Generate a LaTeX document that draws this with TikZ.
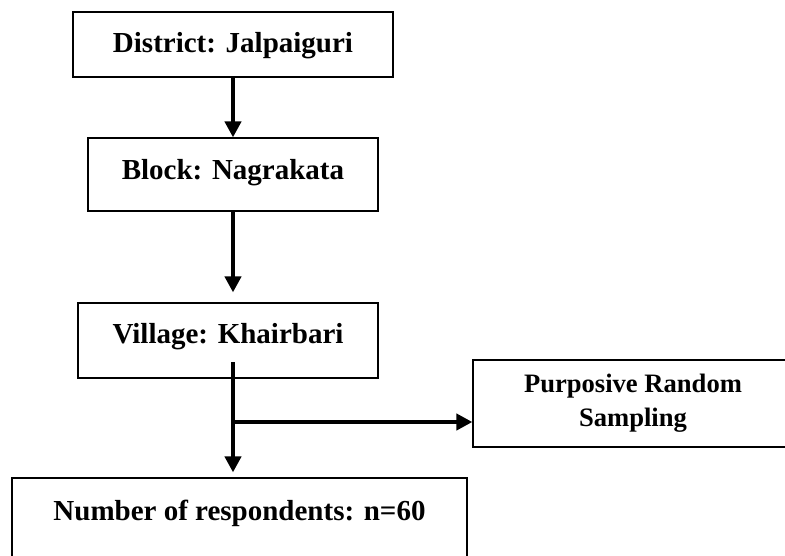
\documentclass[tikz,border=0pt]{standalone}
\usepackage{fontspec}
\setmainfont{Liberation Serif}
\usetikzlibrary{arrows.meta}

\begin{document}
\begin{tikzpicture}[x=1pt,y=-1pt,
  box/.style={draw,line width=1.2pt,inner sep=0pt,font=\fontsize{29}{34}\selectfont\bfseries},
  flow/.style={line width=4.5pt,-{Triangle[width=16pt,length=16pt]}}]
  \useasboundingbox (0,0) rectangle (785,555);
  % stages
  \node[box,minimum width=320pt,text height=40pt,text depth=25pt] (district) at (233,44.5) {District: Jalpaiguri};
  \node[box,minimum width=290pt,text height=41pt,text depth=32pt] (block) at (233,174.5) {Block: Nagrakata};
  \node[box,minimum width=300pt,text height=40pt,text depth=35pt] (village) at (228,340.5) {Village: Khairbari};
  \node[box,minimum width=455pt,text height=42pt,text depth=50pt] (number) at (239.5,524) {Number of respondents: n=60};
  \node[box,font=\fontsize{26.6}{34}\selectfont\bfseries,align=center,minimum width=320pt,minimum height=87pt] (purposive) at (633,403.5) {Purposive Random\\Sampling};
  \coordinate (trunk) at (233,362);
  \coordinate (fork) at (233,422);
  % arrows
  \draw[flow] (district) -- (block);
  \draw[flow,shorten >=10pt] (block) -- (block |- village.north);
  \draw[flow,shorten >=5pt] (trunk) -- (trunk |- number.north);
  \draw[flow] (fork) -- (fork -| purposive.west);
\end{tikzpicture}
\end{document}
